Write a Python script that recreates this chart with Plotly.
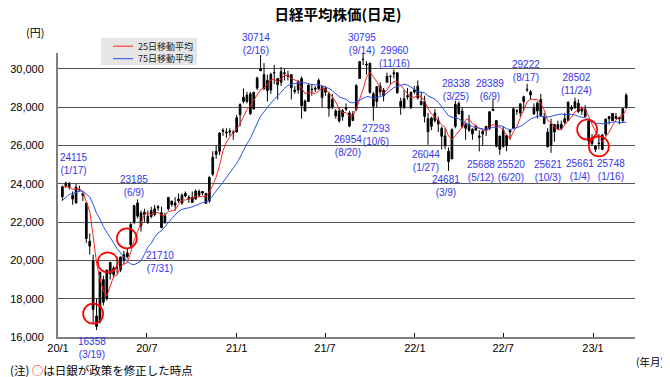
import pandas as pd
import plotly.graph_objects as go

# ---------------- data (weekly OHLC) ----------------
week_end = pd.date_range("2020-01-10", periods=166, freq="W-FRI")

open_px = [
    23319, 23900, 24000, 23400, 23000, 23700, 23500, 23000, 21000, 20000,
    17100, 16800, 19000, 18000, 19300, 19600, 19600, 19500, 20300, 20200,
    20800, 22000, 23000, 21800, 22400, 22000, 22600, 22400, 22800, 22500,
    22000, 22700, 23100, 23000, 23100, 23000, 23500, 23300, 23300, 23200,
    23600, 23600, 23500, 23100, 24500, 25700, 25700, 26800, 26700, 26700,
    26700, 26700,
    27600, 28300, 28300, 28700, 27900, 29000, 29900, 29700, 29400, 28900,
    29800, 29500, 29300, 29800, 29600, 29700, 28900, 28900, 29500, 27800,
    28300, 28900, 29000, 29400, 28500, 29000, 28700, 28400, 27800, 27800,
    27500, 27900, 27700, 27300, 27900, 29500, 30500, 30200, 30300, 28700,
    28300, 29100, 28600, 29300, 29600, 29800, 29800, 28300, 28000, 28600,
    28000, 28900,
    29100, 28300, 28300, 27400, 27000, 27300, 27300, 26900, 26500, 25700,
    25300, 27000, 28200, 27800, 26900, 26800, 26600, 26800, 26500, 26600,
    27000, 26900, 27900, 27300, 25800, 26800, 26000, 26700, 26900, 27800,
    27700, 28300, 28900, 28800, 28000, 27800, 28400, 27500, 26700, 26000,
    26700, 27100, 26900, 27400, 27300, 28000, 28000, 28200, 27800, 27900,
    27300, 26400,
    25800, 26100, 25800, 26600, 27400, 27300, 27400, 27400, 27300, 28000,
]
high_px = [
    23903, 24115, 24100, 23600, 23995, 23900, 23500, 23000, 21400, 20300,
    18000, 19400, 19200, 19500, 19900, 19700, 20200, 20200, 20500, 20600,
    21950, 22900, 23185, 22600, 22700, 22600, 22800, 22900, 22900, 22800,
    22500, 23300, 23100, 23300, 23500, 23500, 23600, 23400, 23600, 23700,
    23700, 23600, 23500, 24400, 25700, 26000, 26700, 26900, 26900, 26900,
    26800, 27600,
    28200, 28980, 28800, 28800, 28800, 29600, 30714, 30300, 29700, 29800,
    30200, 29500, 30100, 30000, 29900, 29700, 29100, 29400, 29600, 28400,
    29200, 29200, 29100, 29500, 29100, 29100, 28800, 28700, 27900, 28000,
    27900, 28200, 27800, 27800, 29200, 30400, 30795, 30400, 30300, 28800,
    29100, 29300, 29000, 29800, 29700, 29960, 29800, 28500, 28900, 29000,
    28800, 29100,
    29400, 28800, 28600, 27700, 27500, 27900, 27500, 27000, 26900, 25900,
    26900, 28338, 28300, 28000, 27200, 27600, 26900, 27100, 26800, 26800,
    27000, 27800, 28389, 27300, 26500, 27000, 26600, 26800, 28000, 27900,
    28200, 28600, 29222, 28900, 28200, 28300, 28700, 27700, 26900, 27400,
    27100, 27300, 27300, 27700, 28300, 28100, 28502, 28400, 28000, 28100,
    27400, 26600,
    26000, 26600, 26600, 27400, 27500, 27700, 27700, 27500, 27950, 28734,
]
low_px = [
    23110, 23800, 23700, 22900, 22970, 23600, 23100, 20900, 20300, 16690,
    16358, 16700, 17650, 17900, 19000, 19100, 19300, 19400, 19800, 20100,
    20700, 21900, 22200, 21500, 22000, 21900, 22200, 22300, 22600, 21710,
    21900, 22600, 22800, 22600, 23000, 22900, 23300, 23000, 23000, 23200,
    23300, 23400, 22950, 23000, 24400, 25300, 25500, 26500, 26400, 26500,
    26300, 26700,
    27000, 28200, 28200, 27600, 27900, 28900, 29900, 28900, 28300, 28700,
    29200, 28400, 29100, 29400, 29400, 28400, 28700, 28700, 27400, 27800,
    28300, 28600, 28800, 28900, 28000, 28600, 27500, 27900, 27400, 27200,
    27300, 27800, 26954, 27300, 27800, 29500, 30200, 29700, 28700, 27293,
    28000, 28600, 28300, 29300, 29200, 29500, 28700, 27600, 27900, 28400,
    27900, 28700,
    28400, 28100, 27200, 26044, 26800, 27200, 26700, 25800, 25800, 24681,
    25300, 26900, 27600, 26900, 26300, 26700, 26300, 26800, 25688, 26000,
    26500, 26800, 27800, 25900, 25520, 25900, 25700, 26300, 26900, 27600,
    27500, 27800, 28800, 28400, 27600, 27400, 27500, 27100, 25900, 25621,
    26200, 26800, 26800, 27100, 27300, 27800, 27900, 27700, 27600, 27500,
    26000, 26000,
    25661, 25800, 25748, 26500, 27100, 27300, 27400, 27100, 27200, 27900,
]
close_px = [
    23850, 24041, 23827, 23205, 23828, 23688, 23386, 21142, 20749, 17431,
    16552, 19389, 17820, 19498, 19897, 19262, 19619, 20179, 20037, 20388,
    21877, 22863, 22305, 22478, 22512, 22306, 22290, 22696, 22751, 21710,
    22329, 23289, 22920, 22882, 23205, 23406, 23360, 23204, 23029, 23619,
    23410, 23516, 22977, 24325, 25385, 25527, 26644, 26751, 26652, 26763,
    26656, 27444,
    28139, 28519, 28631, 27663, 28779, 29520, 30018, 28966, 28864, 29717,
    29792, 29176, 29854, 29768, 29683, 29020, 28812, 29357, 28084, 28317,
    29149, 28941, 28948, 28964, 29066, 28783, 27940, 28003, 27548, 27283,
    27820, 27977, 27013, 27641, 29128, 30381, 30500, 30248, 28771, 28048,
    29068, 28804, 28892, 29611, 29609, 29745, 28751, 28029, 28437, 28545,
    28782, 28791,
    28478, 28124, 27522, 26717, 27439, 27696, 27122, 26476, 25985, 25162,
    26827, 28149, 27665, 26985, 27093, 27105, 26848, 27003, 26427, 26739,
    26781, 27761, 27824, 25963, 26491, 25935, 26517, 26788, 27914, 27801,
    28175, 28546, 28930, 28641, 27650, 28214, 27567, 27153, 25937, 27116,
    27090, 26890, 27105, 27199, 28263, 27899, 28283, 27777, 27901, 27527,
    26235, 26094,
    25973, 26119, 26553, 27382, 27509, 27670, 27513, 27453, 27927, 28623,
]
# weekly closes Oct-Dec 2019 (needed only to start the moving averages)
warmup_close = [21410, 21798, 22492, 22799, 22850, 23391, 23303, 23112,
                23293, 23354, 24023, 23816, 23837, 23656]

# labelled highs / lows
high_dates = ["2020-01-17", "2020-06-09", "2021-02-16", "2021-09-14", "2021-11-16",
              "2022-03-25", "2022-06-09", "2022-08-17", "2022-11-24"]
high_values = [24115, 23185, 30714, 30795, 29960, 28338, 28389, 29222, 28502]
low_dates = ["2020-03-19", "2020-07-31", "2021-08-20", "2021-10-06", "2022-01-27",
             "2022-03-09", "2022-05-12", "2022-06-20", "2022-10-03", "2023-01-04",
             "2023-01-16"]
low_values = [16358, 21710, 26954, 27293, 26044, 24681, 25688, 25520, 25621, 25661, 25748]

# BOJ policy-change markers
boj_dates = ["2020-03-13", "2020-04-12", "2020-05-21", "2022-12-20", "2023-01-13"]
boj_levels = [17217, 19900, 21150, 26835, 25950]

tick_dates = ["2020-01-01", "2020-07-01", "2021-01-01", "2021-07-01",
              "2022-01-01", "2022-07-01", "2023-01-01"]
tick_text = ["20/1", "20/7", "21/1", "21/7", "22/1", "22/7", "23/1"]
y_ticks = [16000, 18000, 20000, 22000, 24000, 26000, 28000, 30000]

assert len(open_px) == len(high_px) == len(low_px) == len(close_px) == len(week_end)

# ---------------- moving averages (25 trading days ~ 5 weeks, 75 ~ 15 weeks) --
all_close = pd.Series(warmup_close + close_px)
ma25 = all_close.rolling(5).mean().iloc[len(warmup_close):].to_numpy()
ma75 = all_close.rolling(15).mean().iloc[len(warmup_close):].to_numpy()

NUM = "Liberation Sans, Arial, sans-serif"
JP = "Noto Sans CJK JP, sans-serif"
LBL = "#3333ee"

fig = go.Figure()
fig.add_trace(go.Candlestick(
    x=week_end, open=open_px, high=high_px, low=low_px, close=close_px,
    increasing=dict(line=dict(color="black", width=1), fillcolor="black"),
    decreasing=dict(line=dict(color="black", width=1), fillcolor="black"),
    whiskerwidth=0, showlegend=False, hoverinfo="skip"))
fig.add_trace(go.Scatter(x=week_end, y=ma25, mode="lines",
                         line=dict(color="#ff2020", width=1), showlegend=False))
fig.add_trace(go.Scatter(x=week_end, y=ma75, mode="lines",
                         line=dict(color="#2a52e8", width=1), showlegend=False))
fig.add_trace(go.Scatter(x=boj_dates, y=boj_levels, mode="markers",
                         marker=dict(symbol="circle-open", size=20,
                                     color="#ff0000", line=dict(width=1.7)),
                         showlegend=False))

annotations = []
high_shift = [(8, 5), (-2, 0), (-3, -2), (0, -3), (2, 0), (1, -2), (-2, -3), (0, 0), (2, 1)]
for d, v, (dx, dy) in zip(high_dates, high_values, high_shift):
    ts = pd.Timestamp(d)
    annotations.append(dict(x=d, y=v, xref="x", yref="y", showarrow=False,
                            text=f"{v}<br>({ts.month}/{ts.day})", borderpad=0,
                            xanchor="center", yanchor="bottom", xshift=dx, yshift=dy,
                            font=dict(size=10, color=LBL, family=NUM)))
low_shift = [(-4, -5), (-1, -21), (-1, -6), (4, -1), (-2, -3), (-2, -2), (2, -7),
             (13, -3), (-1, -5), (-14, -5), (11, -7)]
for d, v, (dx, dy) in zip(low_dates, low_values, low_shift):
    ts = pd.Timestamp(d)
    annotations.append(dict(x=d, y=v, xref="x", yref="y", showarrow=False,
                            text=f"{v}<br>({ts.month}/{ts.day})", borderpad=0,
                            xanchor="center", yanchor="top", xshift=dx, yshift=dy,
                            font=dict(size=10, color=LBL, family=NUM)))

# legend text and other labels (paper = plot-area fractions; plot area 577 x 284 px)
annotations += [
    dict(x=0.137, y=1.024, xref="paper", yref="paper", showarrow=False, borderpad=0,
         text="25日移動平均", xanchor="left", yanchor="middle",
         font=dict(size=9, color="#222", family=JP)),
    dict(x=0.137, y=0.980, xref="paper", yref="paper", showarrow=False, borderpad=0,
         text="75日移動平均", xanchor="left", yanchor="middle",
         font=dict(size=9, color="#222", family=JP)),
    dict(x=-0.040, y=1.074, xref="paper", yref="paper", showarrow=False,
         text="(円)", xanchor="center", yanchor="middle",
         font=dict(size=11, color="black", family=JP)),
    dict(x=1.026, y=-0.088, xref="paper", yref="paper", showarrow=False,
         text="(年月)", xanchor="center", yanchor="middle",
         font=dict(size=10.5, color="black", family=JP)),
    dict(x=-0.0845, y=-0.116, xref="paper", yref="paper", showarrow=False, borderpad=0,
         text="(注) <span style='color:#ff0000'>○</span>は日銀が政策を修正した時点",
         xanchor="left", yanchor="middle",
         font=dict(size=11.5, color="black", family=JP)),
]

shapes = [
    dict(type="rect", xref="paper", yref="paper", x0=0.0745, x1=0.2409,
         y0=0.9577, y1=1.0528, fillcolor="#e6e6e6", line=dict(width=0), layer="above"),
    dict(type="line", xref="paper", yref="paper", x0=0.0953, x1=0.1300,
         y0=1.024, y1=1.024, line=dict(color="#ff2020", width=1)),
    dict(type="line", xref="paper", yref="paper", x0=0.0953, x1=0.1300,
         y0=0.980, y1=0.980, line=dict(color="#2a52e8", width=1)),
]

# the page places the figure 8px from the top-left corner, so the figure is
# 8px smaller than the window and its margins are reduced by the same amount
fig.update_layout(
    width=662, height=369,
    margin=dict(l=50, r=35, t=45, b=40, autoexpand=False),
    paper_bgcolor="white", plot_bgcolor="white",
    showlegend=False,
    title=dict(text="<b>日経平均株価(日足)</b>", x=0.4985, xanchor="center",
               y=0.996, yanchor="top", pad=dict(t=0, b=0),
               font=dict(size=14.5, color="black", family=JP)),
    xaxis=dict(type="date", range=["2020-01-01", "2023-03-28"], automargin=False,
               tickvals=tick_dates, ticktext=tick_text,
               ticks="inside", ticklen=4, tickcolor="black", tickwidth=1,
               showgrid=False, showline=True, linecolor="#808080", linewidth=2,
               rangeslider=dict(visible=False), zeroline=False,
               tickfont=dict(size=11, color="black", family=NUM)),
    yaxis=dict(range=[16000, 30830], tickvals=y_ticks, tickformat=",d", automargin=False,
               showgrid=True, gridcolor="#555555", gridwidth=1.4,
               showline=True, linecolor="#808080", linewidth=2, zeroline=False,
               ticks="", ticklabelstandoff=10,
               tickfont=dict(size=11, color="black", family=NUM)),
    annotations=annotations,
    shapes=shapes,
)

fig.write_html("out.html")
